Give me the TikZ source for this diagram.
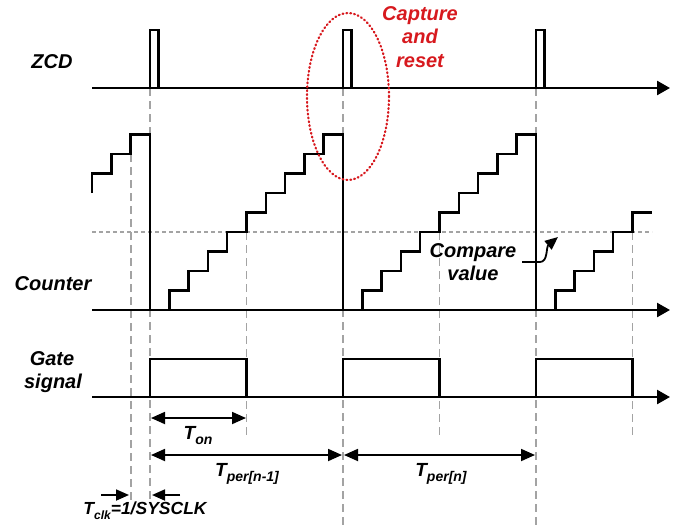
\documentclass[tikz,border=0pt]{standalone}
\usepackage{fontspec}
\setmainfont{Liberation Sans}
\usetikzlibrary{arrows.meta}
\definecolor{guidegray}{HTML}{A3A3A3}
\definecolor{capred}{HTML}{D7191E}
\newcommand\mysub[1]{\raisebox{-0.3em}{\fontsize{14}{14}\selectfont #1}}
\newcommand\mysmallsub[1]{\raisebox{-0.3em}{\fontsize{12}{12}\selectfont #1}}
\begin{document}
\begin{tikzpicture}[x=1pt,y=-1pt,
  sig/.style={line width=2.5pt, line join=miter},
  axis/.style={line width=2.5pt, -{Triangle[length=13pt,width=14pt]}},
  guide/.style={draw=guidegray, line width=1.8pt, dash pattern=on 8pt off 5pt},
  cmpline/.style={draw=guidegray, line width=1.8pt, dash pattern=on 4pt off 3pt},
  dim/.style={line width=1.8pt, {Triangle[length=14pt,width=12pt]}-{Triangle[length=14pt,width=12pt]}},
  onearrow/.style={line width=1.8pt, -{Triangle[length=13pt,width=11pt]}},
  lbl/.style={font=\bfseries\itshape\fontsize{20}{24}\selectfont, anchor=base, inner sep=0pt},
  tlbl/.style={font=\bfseries\itshape\fontsize{19}{22}\selectfont, anchor=base, inner sep=0pt},
  redlbl/.style={lbl, text=capred}
]
\useasboundingbox (0,0) rectangle (682,531);

% guide lines
\draw[guide] (130.7,154) -- (130.7,500);
\draw[guide] (150,88) -- (150,500);
\draw[guide] (343,88) -- (343,525);
\draw[guide] (536,88) -- (536,525);
\foreach \x in {246.5,439.5,632.5} \draw[guide] (\x,232) -- (\x,437);
% compare level
\draw[cmpline] (92,232) -- (652,232);

% ZCD
\draw[axis] (92,88) -- (670,88);
\draw[sig] (150,88) -- (150,30) -- (158.5,30) -- (158.5,88);
\draw[sig] (343,88) -- (343,30) -- (351.5,30) -- (351.5,88);
\draw[sig] (536,88) -- (536,30) -- (544.5,30) -- (544.5,88);

% Counter
\draw[axis] (92,310) -- (670,310);
\draw[sig] (92,193) -- (92,173.5) -- (111.4,173.5) -- (111.4,154) -- (130.7,154) -- (130.7,134.5) -- (150,134.5) -- (150,310);
\foreach \xo in {150,343} {
  \draw[sig] (\xo,310) \foreach \k in {1,...,9} { -- ({\xo+19.3*\k},{310-19.5*(\k-1)}) -- ({\xo+19.3*\k},{310-19.5*\k}) } -- ({\xo+193},134.5) -- ({\xo+193},310);
}
\draw[sig] (536,310) \foreach \k in {1,...,5} { -- ({536+19.3*\k},{310-19.5*(\k-1)}) -- ({536+19.3*\k},{310-19.5*\k}) } -- (652,212.5);

% Gate
\draw[axis] (92,397) -- (670,397);
\foreach \xo in {150,343,536} \draw[sig] (\xo,397) -- (\xo,359) -- ({\xo+96.5},359) -- ({\xo+96.5},397);

% Labels
\node[lbl] (zcd) at (52,68) {ZCD};
\node[lbl] (counter) at (53,290) {Counter};
\node[lbl] (gate) at (52,365) {Gate};
\node[lbl] (signal) at (53,388) {signal};
\node[lbl] (compare) at (473,257) {Compare};
\node[lbl] (value) at (473,280) {value};
\node[redlbl] (capture) at (420,20) {Capture};
\node[redlbl] (and) at (420,43) {and};
\node[redlbl] (reset) at (420,67) {reset};

% compare pointer
\coordinate (cmpA) at (522,262);
\coordinate (cmpB) at (540,262);
\coordinate (cmpTip) at (558,237);
\draw[onearrow] (cmpA) -- (cmpB) .. controls (548,262) and (546,247) .. (cmpTip);

% dimension arrows
\coordinate (tonL) at (151,418);
\coordinate (tonR) at (246,418);
\draw[dim] (tonL) -- (tonR);
\node[tlbl] (ton) at (198,439) {T\mysub{on}};

\coordinate (p1L) at (151,455);
\coordinate (p1R) at (342,455);
\draw[dim] (p1L) -- (p1R);
\node[tlbl] (tper1) at (247,476) {T\mysub{per[n-1]}};

\coordinate (p2L) at (344,455);
\coordinate (p2R) at (535,455);
\draw[dim] (p2L) -- (p2R);
\node[tlbl] (tper2) at (441,476) {T\mysub{per[n]}};

\coordinate (ck1A) at (101,495);
\coordinate (ck1B) at (129,495);
\coordinate (ck2A) at (180,495);
\coordinate (ck2B) at (152,495);
\draw[onearrow] (ck1A) -- (ck1B);
\draw[onearrow] (ck2A) -- (ck2B);
\node[font=\bfseries\itshape\fontsize{17.5}{20}\selectfont, anchor=base, inner sep=0pt] (tclk) at (145,514) {T\mysmallsub{clk}=1/SYSCLK};

% capture ellipse
\draw[capred, line width=2.2pt, dash pattern=on 0.9pt off 3pt, line cap=round] (348,96.5) ellipse [x radius=41pt, y radius=83.5pt];
\end{tikzpicture}
\end{document}
